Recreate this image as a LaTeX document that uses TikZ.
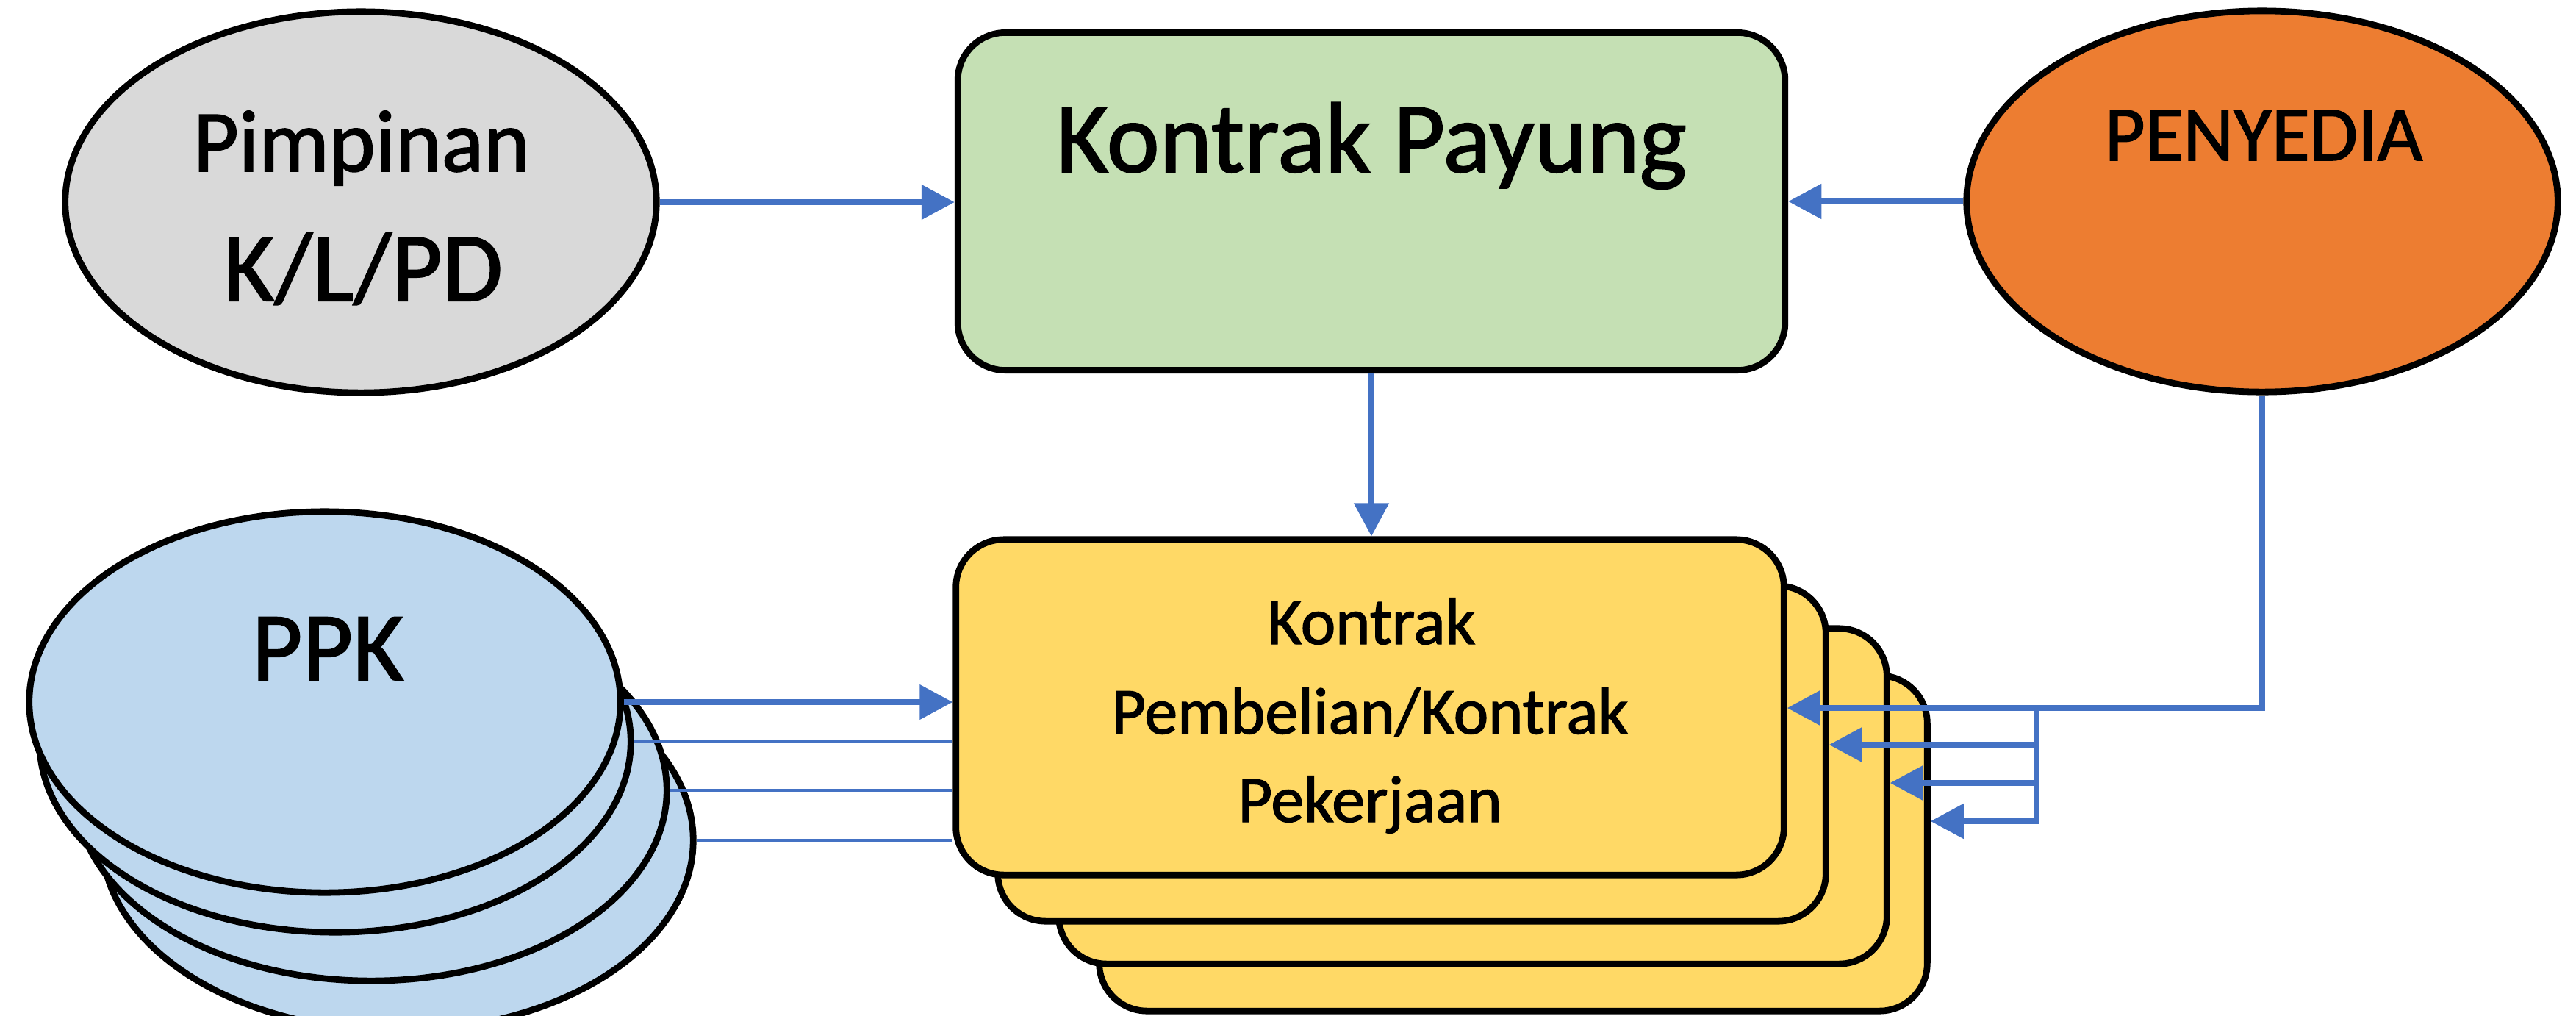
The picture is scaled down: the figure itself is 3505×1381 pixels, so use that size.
\documentclass[tikz,border=0pt]{standalone}
\usepackage{fontspec}
\setmainfont{Carlito}
\newfontfamily\labelfont{Carlito}[FakeBold=1.5]
\usetikzlibrary{arrows.meta,shapes.geometric}
\definecolor{greyfill}{HTML}{D9D9D9}
\definecolor{greenfill}{HTML}{C5E0B4}
\definecolor{orangefill}{HTML}{ED7D31}
\definecolor{bluefill}{HTML}{BDD7EE}
\definecolor{cardyellow}{HTML}{FFD966}
\definecolor{linkblue}{HTML}{4472C4}
\begin{document}
\begin{tikzpicture}[x=0.01cm, y=-0.01cm,
  oval/.style={ellipse, draw=black, line width=2.5pt, inner sep=0pt,
    minimum width=8.04cm, minimum height=5.18cm},
  card/.style={rectangle, rounded corners=0.65cm, draw=black, line width=2.5pt,
    inner sep=0pt, minimum width=11.26cm, minimum height=4.56cm, fill=cardyellow},
  link/.style={draw=linkblue, line width=2.2pt},
  tip/.style={-{Triangle[length=0.45cm,width=0.46cm]}},
  feeder/.style={draw=linkblue, line width=1pt},
  lbl/.style={inner sep=0pt, anchor=base, text=black}]
\useasboundingbox (0,0) rectangle (3505,1381);

% top row
\node[oval, fill=greyfill] (pim) at (491,275) {};
\node[oval, fill=orangefill] (pen) at (3078,274) {};
\node[card, fill=greenfill, minimum width=11.25cm, minimum height=4.59cm] (py) at (1866,274) {};

% stack of purchase contracts, back to front
\node[card] (k4) at (2059,1147) {};
\node[card] (k3) at (2004,1083) {};
\node[card] (k2) at (1921,1025) {};
\node[card] (k1) at (1864,962) {};

% stack of PPK, back to front
\node[oval, fill=bluefill] (ppk4) at (541,1143) {};
\node[oval, fill=bluefill] (ppk3) at (505,1075) {};
\node[oval, fill=bluefill] (ppk2) at (456,1009) {};
\node[oval, fill=bluefill] (ppk1) at (442,955) {};

% labels
\node[lbl, font=\labelfont\fontsize{34}{40}\selectfont] (pimA) at (492,233) {Pimpinan};
\node[lbl, font=\labelfont\fontsize{38}{45}\selectfont] (pimB) at (494,409) {K/L/PD};
\node[lbl, font=\labelfont\fontsize{38.7}{46}\selectfont] (pyT) at (1866,234) {Kontrak Payung};
\node[lbl, font=\labelfont\fontsize{30.2}{36}\selectfont] (penT) at (3080,218) {PENYEDIA};
\node[lbl, font=\labelfont\fontsize{37.8}{45}\selectfont] (ppkT) at (446,925) {PPK};
\node[lbl, font=\labelfont\fontsize{25.6}{31}\selectfont] (kA) at (1866,876) {Kontrak};
\node[lbl, font=\labelfont\fontsize{25.6}{31}\selectfont] (kB) at (1864,998) {Pembelian/Kontrak};
\node[lbl, font=\labelfont\fontsize{25.6}{31}\selectfont] (kC) at (1864,1118) {Pekerjaan};

% connectors into the umbrella contract
\draw[link, tip] (pim.east) -- (pim.east -| py.west);
\draw[link, tip] (pen.west) -- (pen.west -| py.east);
\draw[link, tip] (py.south) -- (py.south |- k1.north);

% PPK to purchase contracts
\draw[link, tip] (ppk1.east) -- (ppk1.east -| k1.west);
\draw[feeder] (ppk2.east) -- (ppk2.east -| k1.west);
\draw[feeder] (ppk3.east) -- (ppk3.east -| k1.west);
\draw[feeder] (ppk4.east) -- (ppk4.east -| k1.west);

% provider to every purchase contract
\coordinate (f1) at (2771,963);
\coordinate (f2) at (2771,1013);
\coordinate (f3) at (2771,1065);
\coordinate (f4) at (2771,1117);
\draw[link, tip] (pen.south) |- (k1.east |- f1);
\draw[link, tip] (f1) -- (f4) -- (k4.east |- f4);
\draw[link, tip] (f2) -- (k2.east |- f2);
\draw[link, tip] (f3) -- (k3.east |- f3);
\end{tikzpicture}
\end{document}
